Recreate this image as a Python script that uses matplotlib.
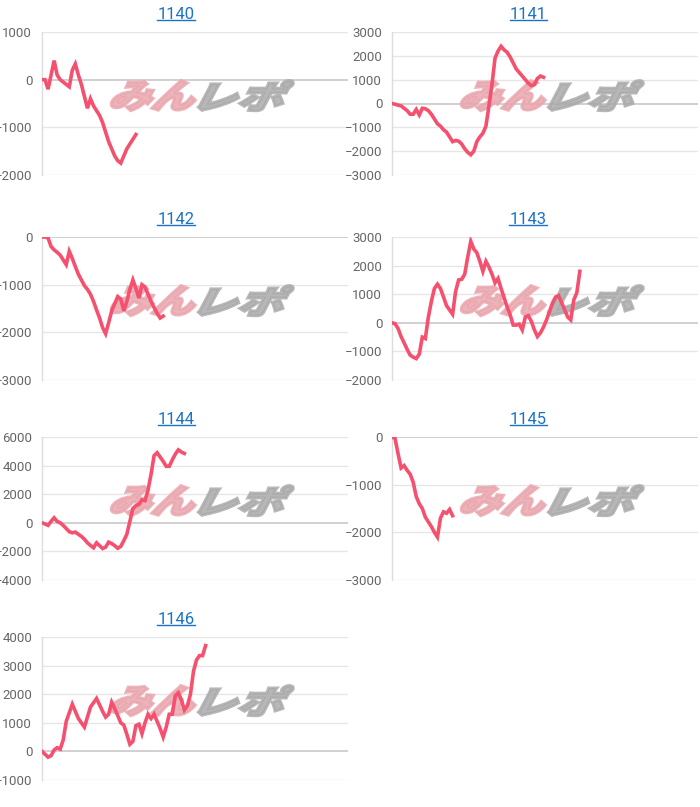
import matplotlib
matplotlib.use("Agg")
import matplotlib.pyplot as plt
import numpy as np
from matplotlib.textpath import TextPath
from matplotlib.font_manager import FontProperties
from matplotlib.patches import PathPatch
from matplotlib.transforms import Affine2D, blended_transform_factory

titles = ["1140", "1141", "1142", "1143", "1144", "1145", "1146"]

s1140 = [0, 0, -200, 100, 400, 100, 0, -50, -100, -150, 200, 330, 100, -100, -350, -600,
         -400, -550, -650, -750, -900, -1100, -1300, -1450, -1600, -1700, -1750, -1600,
         -1450, -1350, -1250, -1150]
s1141 = [0, -30, -70, -100, -200, -300, -450, -450, -250, -480, -200, -220, -300, -450,
         -650, -850, -950, -1100, -1200, -1400, -1600, -1550, -1580, -1700, -1900, -2050,
         -2150, -2000, -1600, -1400, -1250, -950, -100, 800, 1900, 2200, 2400, 2250, 2150,
         1950, 1700, 1450, 1300, 1150, 1000, 850, 750, 800, 1050, 1150, 1100]
s1142 = [0, 0, -20, -200, -270, -320, -380, -480, -580, -300, -450, -620, -780, -900,
         -1020, -1100, -1200, -1350, -1530, -1700, -1900, -2030, -1800, -1550, -1400, -1250,
         -1300, -1550, -1350, -1100, -900, -1080, -1280, -1000, -1050, -1200, -1350, -1480,
         -1600, -1700, -1660]
s1143 = [0, -30, -200, -480, -700, -930, -1130, -1200, -1250, -1100, -500, -550, 200, 750,
         1200, 1350, 1200, 900, 600, 450, 300, 1100, 1500, 1520, 1700, 2300, 2850, 2580,
         2450, 2150, 1800, 2150, 1950, 1700, 1400, 1550, 1200, 880, 550, 280, -80, -80, -50,
         -250, 200, 250, 50, -250, -480, -350, -150, 100, 400, 700, 900, 950, 700, 450, 200,
         100, 800, 1050, 1800]
s1144 = [0, -80, -180, 100, 350, 100, 0, -180, -400, -620, -700, -650, -800, -950, -1150,
         -1400, -1580, -1750, -1400, -1600, -1800, -1700, -1350, -1450, -1600, -1780, -1650,
         -1250, -800, 100, 1000, 1200, 1300, 1600, 1550, 2300, 3400, 4700, 4900, 4600, 4300,
         3950, 3950, 4400, 4800, 5100, 4950, 4850]
s1145 = [0, -30, -350, -650, -600, -700, -780, -950, -1250, -1400, -1500, -1680, -1780,
         -1880, -2000, -2100, -1700, -1570, -1600, -1520, -1650]
s1146 = [0, -100, -200, -150, 50, 130, 80, 400, 1050, 1350, 1650, 1400, 1150, 1000, 850,
         1200, 1550, 1700, 1850, 1630, 1400, 1200, 1300, 1720, 1500, 1250, 1000, 920, 600,
         250, 350, 900, 950, 620, 1000, 1300, 1150, 1300, 1050, 800, 500, 850, 1300, 1300,
         1950, 2050, 1800, 1450, 1600, 2000, 2800, 3200, 3350, 3350, 3700]
series = [s1140, s1141, s1142, s1143, s1144, s1145, s1146]

yticks = [
    [-2000, -1000, 0, 1000],
    [-3000, -2000, -1000, 0, 1000, 2000, 3000],
    [-3000, -2000, -1000, 0],
    [-2000, -1000, 0, 1000, 2000, 3000],
    [-4000, -2000, 0, 2000, 4000, 6000],
    [-3000, -2000, -1000, 0],
    [-1000, 0, 1000, 2000, 3000, 4000],
]

W, H = 700, 807
fig = plt.figure(figsize=(W / 100, H / 100), dpi=100)
col_left = [42, 392]
col_center = [176, 528]
row_bottom = [175, 380, 580, 780]
ax_w, ax_h = 306, 143

LINE = "#f5506e"
jp = FontProperties(family="Noto Sans CJK JP", weight="heavy")


def watermark(ax):
    tr = ax.transAxes
    for txt, col, x0 in [("みん", "#eaa6ae", 0.215), ("レポ", "#ababab", 0.505)]:
        tp = TextPath((0, 0), txt, size=30, prop=jp)
        bb = tp.get_extents()
        sx = 0.27 / bb.width
        sy = 0.21 / bb.height
        t = Affine2D().translate(-bb.x0, -bb.y0).skew_deg(20, 0).scale(sx, sy).translate(x0, 0.45) + tr
        p = PathPatch(tp, transform=t, facecolor=col, edgecolor=col, lw=2.2,
                      alpha=0.85, zorder=1)
        ax.add_patch(p)


axes = []
for i, (name, vals, yt) in enumerate(zip(titles, series, yticks)):
    r, c = divmod(i, 2)
    ax = fig.add_axes([col_left[c] / W, 1 - row_bottom[r] / H, ax_w / W, ax_h / H])
    x = np.arange(len(vals))
    ax.plot(x, vals, color=LINE, lw=2.6, zorder=3, solid_joinstyle="miter")
    ax.set_xlim(0, 101)
    ax.set_ylim(yt[0], yt[-1])
    ax.set_yticks(yt)
    ax.set_xticks([])
    ax.tick_params(axis="y", length=0, pad=7, labelsize=9.5, labelcolor="#666666")
    for t in ax.get_yticklabels():
        t.set_fontfamily("Roboto")
    for sp in ["top", "right", "bottom"]:
        ax.spines[sp].set_visible(False)
    ax.spines["left"].set_color("#dddddd")
    ax.spines["left"].set_linewidth(1)
    for v in yt:
        ax.axhline(v, color="#c8c8c8" if v == 0 else "#e6e6e6", lw=1.2 if v == 0 else 1, zorder=0.5)
    watermark(ax)
    trans = blended_transform_factory(fig.transFigure, ax.transAxes)
    ttl = ax.text(col_center[c] / W, 1.0 + 10 / ax_h, name, transform=trans, ha="center",
                  va="bottom", color="#1a73c8", fontsize=12, family="Roboto")
    axes.append((ax, ttl))

fig.canvas.draw()
rend = fig.canvas.get_renderer()
for ax, ttl in axes:
    bb = ttl.get_window_extent(rend)
    y = bb.y0 + 2
    fig.add_artist(plt.Line2D([bb.x0 / W, bb.x1 / W], [y / H, y / H], transform=fig.transFigure,
                              color="#1a73c8", lw=1))

fig.savefig("out.png", dpi=100, facecolor="white")
